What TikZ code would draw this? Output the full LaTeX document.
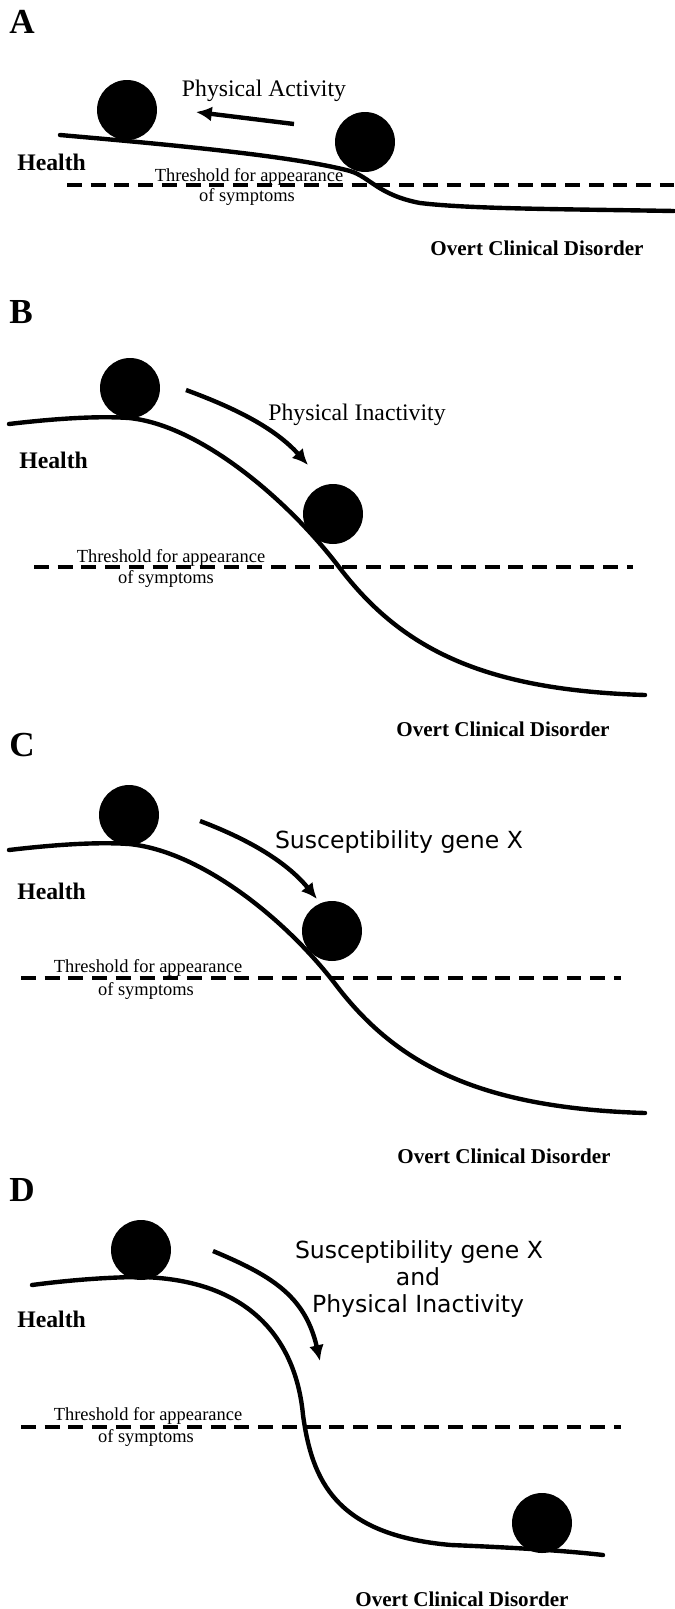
\documentclass[tikz,border=0pt]{standalone}
\usepackage{fontspec}
\setmainfont{Liberation Serif}
\newfontfamily\sansf{DejaVu Sans}
\usetikzlibrary{arrows.meta}
\begin{document}
\begin{tikzpicture}[x=0.02cm,y=-0.02cm,
  curve/.style={line width=2.5pt, line cap=round},
  thresh/.style={line width=2.5pt, dash pattern=on 8.5pt off 5pt},
  ball/.style={circle, fill=black, inner sep=0pt, minimum size=1.2cm},
  push/.style={line width=2.5pt, -{Latex[length=9pt,width=8.5pt]}},
  plabel/.style={font=\fontsize{20}{22}\selectfont\bfseries, anchor=base west, inner sep=0pt},
  health/.style={font=\fontsize{13.5}{15}\selectfont\bfseries, anchor=base west, inner sep=0pt},
  overt/.style={font=\fontsize{12}{14}\selectfont\bfseries, anchor=base, inner sep=0pt},
  thr/.style={font=\fontsize{10.5}{12}\selectfont, anchor=base, inner sep=0pt},
  cause/.style={font=\fontsize{13.5}{15}\selectfont, anchor=base, inner sep=0pt},
  causes/.style={font=\sansf\fontsize{13.4}{15.3}\selectfont, anchor=base, inner sep=0pt},
]
\useasboundingbox (0,0) rectangle (674,1609);

% ---------------- Panel A ----------------
\node[plabel] (labA) at (9,33) {A};
\draw[curve] (60,135) .. controls (150,143) and (290,155) .. (350,171)
  .. controls (370,177) and (378,195) .. (420,203)
  .. controls (470,209) and (560,209) .. (674,211);
\draw[thresh] (67,185) -- (674,185);
\node[ball] (a1) at (127,110) {};
\node[ball] (a2) at (365,142) {};
\node[health] (hA) at (17,170) {Health};
\node[thr] (tA1) at (249,181) {Threshold for appearance};
\node[thr] (tA2) at (247,201) {of symptoms};
\node[cause] (cA) at (264,96) {Physical Activity};
\coordinate (aS) at (294,124);
\coordinate (aE) at (196,112);
\draw[push] (aS) -- (aE);
\node[overt] (oA) at (537,255) {Overt Clinical Disorder};

% ---------------- Panel B ----------------
\node[plabel] (labB) at (9,323) {B};
\draw[curve] (9,424) .. controls (60,418) and (100,416) .. (129,418)
  .. controls (200,425) and (288,500) .. (339,567)
  .. controls (400,647) and (480,690) .. (645,695);
\draw[thresh] (34,567) -- (633,567);
\node[ball] (b1) at (130,388) {};
\node[ball] (b2) at (333,514) {};
\node[health] (hB) at (19,468) {Health};
\node[thr] (tB1) at (171,562) {Threshold for appearance};
\node[thr] (tB2) at (166,583) {of symptoms};
\node[cause] (cB) at (357,420) {Physical Inactivity};
\coordinate (bS) at (186,390);
\coordinate (bE) at (308,465);
\draw[push] (bS) .. controls (235,408) and (275,428) .. (bE);
\node[overt] (oB) at (503,736) {Overt Clinical Disorder};

% ---------------- Panel C ----------------
\node[plabel] (labC) at (9,756) {C};
\draw[curve] (9,850) .. controls (60,844) and (100,842) .. (129,844)
  .. controls (200,851) and (285,918) .. (336,985)
  .. controls (397,1065) and (480,1108) .. (645,1113);
\draw[thresh] (21,978) -- (621,978);
\node[ball] (c1) at (129,815) {};
\node[ball] (c2) at (332,931) {};
\node[health] (hC) at (17,899) {Health};
\node[thr] (tC1) at (148,972) {Threshold for appearance};
\node[thr] (tC2) at (146,995) {of symptoms};
\node[causes] (cC) at (399,848) {Susceptibility gene X};
\coordinate (cS) at (200,821);
\coordinate (cE) at (317,899);
\draw[push] (cS) .. controls (245,838) and (285,860) .. (cE);
\node[overt] (oC) at (504,1163) {Overt Clinical Disorder};

% ---------------- Panel D ----------------
\node[plabel] (labD) at (9,1201) {D};
\draw[curve] (32,1285) .. controls (70,1280) and (110,1277) .. (142,1277)
  .. controls (250,1280) and (296,1340) .. (303,1415)
  .. controls (312,1480) and (335,1535) .. (451,1545)
  .. controls (500,1547) and (560,1550) .. (603,1555);
\draw[thresh] (21,1427) -- (621,1427);
\node[ball] (d1) at (141,1250) {};
\node[ball] (d2) at (542,1523) {};
\node[health] (hD) at (17,1327) {Health};
\node[thr] (tD1) at (148,1420) {Threshold for appearance};
\node[thr] (tD2) at (146,1442) {of symptoms};
\node[causes] (cD1) at (419,1258) {Susceptibility gene X};
\node[causes] (cD2) at (418,1285) {and};
\node[causes] (cD3) at (418,1312) {Physical Inactivity};
\coordinate (dS) at (213,1251);
\coordinate (dE) at (320,1361);
\draw[push] (dS) .. controls (270,1275) and (305,1295) .. (dE);
\node[overt] (oD) at (462,1606) {Overt Clinical Disorder};
\end{tikzpicture}
\end{document}
